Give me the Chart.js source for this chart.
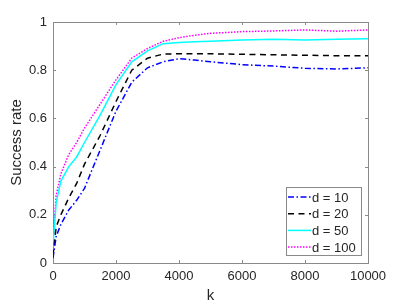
<!DOCTYPE html>
<html>
<head>
<meta charset="utf-8">
<script src="https://cdn.jsdelivr.net/npm/chart.js@4.4.1/dist/chart.umd.min.js"></script>
<style>
  html, body { margin: 0; padding: 0; background: #fff; }
  #wrap { width: 407px; height: 305px; }
</style>
</head>
<body>
<div id="wrap"><canvas id="chart" width="407" height="305"></canvas></div>
<script>
const kValues = [0, 100, 250, 500, 750, 1000, 1500, 2000, 2500, 3000, 3500, 4000, 4500, 5000, 6000, 7000, 8000, 9000, 10000];
const rateD10 = [0.02, 0.11, 0.16, 0.22, 0.26, 0.31, 0.47, 0.63, 0.75, 0.81, 0.835, 0.848, 0.842, 0.835, 0.823, 0.817, 0.808, 0.805, 0.81];
const rateD20 = [0.03, 0.15, 0.20, 0.27, 0.33, 0.41, 0.53, 0.67, 0.80, 0.85, 0.867, 0.868, 0.868, 0.868, 0.866, 0.864, 0.862, 0.860, 0.860];
const rateD50 = [0.07, 0.25, 0.34, 0.40, 0.44, 0.50, 0.615, 0.74, 0.835, 0.88, 0.91, 0.915, 0.918, 0.92, 0.925, 0.928, 0.925, 0.928, 0.93];
const rateD100 = [0.10, 0.28, 0.37, 0.45, 0.50, 0.56, 0.66, 0.76, 0.85, 0.89, 0.92, 0.935, 0.945, 0.953, 0.96, 0.963, 0.967, 0.962, 0.967];
const seriesLabels = ["d = 10", "d = 20", "d = 50", "d = 100"];

const textColor = "#262626";
const axisColor = "#8a8a8a";
const font = "'Liberation Sans', Helvetica, Arial, sans-serif";

function toPoints(values) {
  return kValues.map((k, i) => ({ x: k, y: values[i] }));
}

// plain tick text, no thousands separator, no trailing zeros
const plainTick = v => String(+Number(v).toFixed(2));

// MATLAB-style box with inward ticks on all sides, plus legend inside
const boxPlugin = {
  id: "box",
  beforeDatasetsDraw(chart) {
    const { ctx, chartArea: a, scales } = chart;
    ctx.save();
    ctx.strokeStyle = axisColor;
    ctx.lineWidth = 1;
    ctx.strokeRect(Math.round(a.left) + 0.5, Math.round(a.top) + 0.5,
      Math.round(a.right - a.left), Math.round(a.bottom - a.top));
    ctx.beginPath();
    scales.x.ticks.forEach(t => {
      const px = Math.round(scales.x.getPixelForValue(t.value)) + 0.5;
      ctx.moveTo(px, a.bottom); ctx.lineTo(px, a.bottom - 3);
      ctx.moveTo(px, a.top); ctx.lineTo(px, a.top + 3);
    });
    scales.y.ticks.forEach(t => {
      const py = Math.round(scales.y.getPixelForValue(t.value)) + 0.5;
      ctx.moveTo(a.left, py); ctx.lineTo(a.left + 3, py);
      ctx.moveTo(a.right, py); ctx.lineTo(a.right - 3, py);
    });
    ctx.stroke();
    ctx.restore();
  },
  afterDatasetsDraw(chart) {
    const { ctx, chartArea: a } = chart;
    const w = 75, h = 68;
    const x0 = Math.round(a.right - 7 - w), y0 = Math.round(a.bottom - 8 - h);
    ctx.save();
    ctx.fillStyle = "#fff";
    ctx.fillRect(x0, y0, w, h);
    ctx.strokeStyle = axisColor;
    ctx.lineWidth = 1;
    ctx.strokeRect(x0 + 0.5, y0 + 0.5, w, h);
    ctx.font = "13px " + font;
    ctx.textBaseline = "middle";
    chart.data.datasets.forEach((ds, i) => {
      const y = y0 + 10 + i * 16.7;
      ctx.beginPath();
      ctx.strokeStyle = ds.borderColor;
      ctx.lineWidth = ds.borderWidth;
      ctx.setLineDash(ds.borderDash || []);
      ctx.moveTo(x0 + 2, y); ctx.lineTo(x0 + 25, y);
      ctx.stroke();
      ctx.setLineDash([]);
      ctx.fillStyle = textColor;
      ctx.fillText(ds.label, x0 + 26, y + 1);
    });
    ctx.restore();
  }
};

new Chart(document.getElementById("chart").getContext("2d"), {
  type: "line",
  data: {
    datasets: [
      { label: seriesLabels[0], data: toPoints(rateD10), borderColor: "#0000ff", borderWidth: 1.5, borderDash: [6, 2.5, 1.5, 2.5] },
      { label: seriesLabels[1], data: toPoints(rateD20), borderColor: "#000000", borderWidth: 1.5, borderDash: [6, 4.5] },
      { label: seriesLabels[2], data: toPoints(rateD50), borderColor: "#00ffff", borderWidth: 1.5 },
      { label: seriesLabels[3], data: toPoints(rateD100), borderColor: "#ff00ff", borderWidth: 1.5, borderDash: [1.5, 1.5] },
    ],
  },
  options: {
    responsive: false,
    animation: false,
    events: [],
    elements: { point: { radius: 0 }, line: { tension: 0 } },
    layout: { padding: { top: 22, right: 39, left: 0, bottom: 0 } },
    plugins: { legend: { display: false }, tooltip: { enabled: false } },
    scales: {
      x: {
        type: "linear",
        min: 0,
        max: 10000,
        afterFit: s => { s.height = 42; },
        grid: { drawOnChartArea: false, drawTicks: false },
        border: { display: false },
        ticks: { stepSize: 2000, padding: 6, color: textColor, maxRotation: 0, callback: plainTick, font: { family: font, size: 13 } },
        title: { display: true, text: "k", color: textColor, padding: { top: 1, bottom: 0 }, font: { family: font, size: 15 } },
      },
      y: {
        min: 0,
        max: 1,
        afterFit: s => { s.width = 53; },
        grid: { drawOnChartArea: false, drawTicks: false },
        border: { display: false },
        ticks: { stepSize: 0.2, padding: 6, color: textColor, callback: plainTick, font: { family: font, size: 13 } },
        title: { display: true, text: "Success rate", color: textColor, padding: { top: 8, bottom: 0 }, font: { family: font, size: 15 } },
      },
    },
  },
  plugins: [boxPlugin],
});
</script>
</body>
</html>
